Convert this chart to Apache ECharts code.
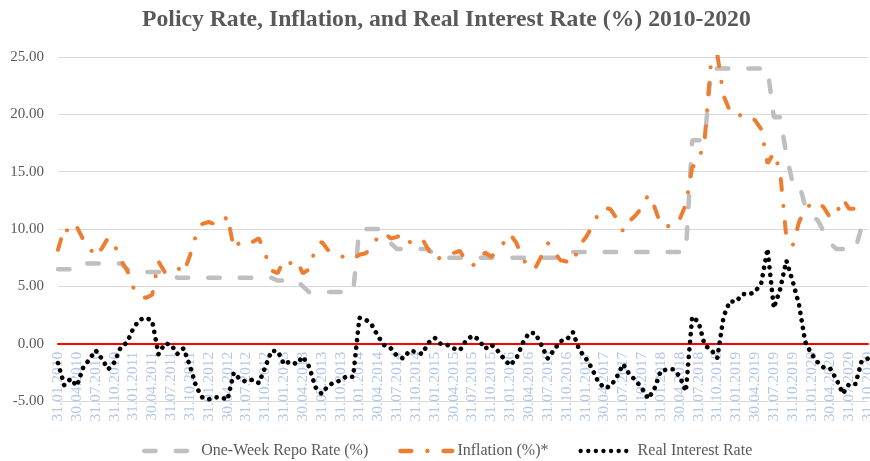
<!DOCTYPE html>
<html>
<head>
<meta charset="utf-8">
<title>Policy Rate, Inflation, and Real Interest Rate (%) 2010-2020</title>
<script src="https://cdn.jsdelivr.net/npm/echarts@6/dist/echarts.min.js"></script>
<style>
  html, body { margin: 0; padding: 0; background: #fff; }
  #main-chart { width: 870px; height: 461px; }
</style>
</head>
<body>
<div id="main-chart"></div>
<script>
// Monthly observations, Jan 2010 - Oct 2020 (month-end dates)
const years = [2010, 2011, 2012, 2013, 2014, 2015, 2016, 2017, 2018, 2019, 2020];
const monthEnds = ['31.01', '28.02', '31.03', '30.04', '31.05', '30.06',
                   '31.07', '31.08', '30.09', '31.10', '30.11', '31.12'];
const lastMonthOf2020 = 10;

const repoRate = [
  6.5, 6.5, 6.5, 6.5, 7, 7, 7, 7, 7, 7, 7, 6.5,
  6.25, 6.25, 6.25, 6.25, 6.25, 6.25, 6.25, 5.75, 5.75, 5.75, 5.75, 5.75,
  5.75, 5.75, 5.75, 5.75, 5.75, 5.75, 5.75, 5.75, 5.75, 5.75, 5.75, 5.5,
  5.5, 5.5, 5.5, 5, 4.5, 4.5, 4.5, 4.5, 4.5, 4.5, 4.5, 4.5,
  10, 10, 10, 10, 9.5, 8.75, 8.25, 8.25, 8.25, 8.25, 8.25, 8.25,
  7.75, 7.5, 7.5, 7.5, 7.5, 7.5, 7.5, 7.5, 7.5, 7.5, 7.5, 7.5,
  7.5, 7.5, 7.5, 7.5, 7.5, 7.5, 7.5, 7.5, 7.5, 7.5, 8, 8,
  8, 8, 8, 8, 8, 8, 8, 8, 8, 8, 8, 8,
  8, 8, 8, 8, 8, 17.75, 17.75, 17.75, 24, 24, 24, 24,
  24, 24, 24, 24, 24, 24, 19.75, 19.75, 16.5, 14, 14, 12,
  11.25, 10.75, 9.75, 8.75, 8.25, 8.25, 8.25, 8.25, 10.25, 10.25
];

const inflation = [
  8.19, 10.13, 9.56, 10.19, 9.10, 8.37, 7.58, 8.33, 9.24, 8.62, 7.29, 6.40,
  4.90, 4.16, 3.99, 4.26, 7.17, 6.24, 6.31, 6.65, 6.15, 7.66, 9.48, 10.45,
  10.61, 10.43, 10.43, 11.14, 8.28, 8.87, 9.07, 8.88, 9.19, 7.80, 6.37, 6.16,
  7.31, 7.03, 7.29, 6.13, 6.51, 8.30, 8.88, 8.17, 7.88, 7.71, 7.32, 7.40,
  7.75, 7.89, 8.39, 9.38, 9.66, 9.16, 9.32, 9.54, 8.86, 8.96, 9.15, 8.17,
  7.24, 7.55, 7.61, 7.91, 8.09, 7.20, 6.81, 7.14, 7.95, 7.58, 8.10, 8.81,
  9.58, 8.78, 7.46, 6.57, 6.58, 7.64, 8.79, 8.05, 7.28, 7.16, 7.00, 8.53,
  9.22, 10.13, 11.29, 11.87, 11.72, 10.90, 9.79, 10.68, 11.20, 11.90, 12.98, 11.92,
  10.35, 10.26, 10.23, 10.85, 12.15, 15.39, 15.85, 17.90, 24.52, 25.24, 21.62, 20.30,
  20.35, 19.67, 19.71, 19.50, 18.71, 15.72, 16.65, 15.01, 9.26, 8.55, 10.56, 11.84,
  12.15, 12.37, 11.86, 10.94, 11.39, 12.62, 11.76, 11.77, 11.75, 11.89
];

const realRate = [
  -1.69, -3.63, -3.06, -3.69, -2.10, -1.37, -0.58, -1.33, -2.24, -1.62, -0.29, 0.10,
  1.35, 2.09, 2.26, 1.99, -0.92, 0.01, -0.06, -0.90, -0.40, -1.91, -3.73, -4.70,
  -4.86, -4.68, -4.68, -4.90, -2.53, -3.12, -3.32, -3.13, -3.44, -2.05, -0.62, -0.66,
  -1.81, -1.53, -1.79, -1.13, -2.01, -3.80, -4.38, -3.67, -3.38, -3.21, -2.82, -2.90,
  2.25, 2.11, 1.61, 0.62, -0.16, -0.41, -1.07, -1.29, -0.61, -0.71, -0.90, 0.08,
  0.51, -0.05, -0.11, -0.41, -0.59, 0.30, 0.69, 0.36, -0.45, -0.08, -0.60, -1.31,
  -1.90, -1.28, 0.04, 0.93, 0.92, -0.14, -1.29, -0.55, 0.22, 0.34, 1.00, -0.53,
  -1.22, -2.13, -3.29, -3.87, -3.72, -2.90, -1.79, -2.68, -3.20, -3.90, -4.80, -3.92,
  -2.35, -2.26, -2.23, -2.85, -4.15, 2.36, 1.90, -0.15, -0.52, -1.24, 2.38, 3.70,
  3.65, 4.33, 4.29, 4.50, 5.29, 8.28, 3.10, 4.74, 7.24, 5.45, 3.44, 0.16,
  -0.90, -1.62, -2.11, -2.19, -3.14, -4.37, -3.51, -3.52, -1.50, -1.30
];

const seriesNames = ['One-Week Repo Rate (%)', 'Inflation (%)*', 'Real Interest Rate'];

// category labels dd.mm.yyyy
const dates = [];
years.forEach(function (y) {
  const n = y === 2020 ? lastMonthOf2020 : 12;
  for (let m = 0; m < n; m++) dates.push(monthEnds[m] + '.' + y);
});

const serif = "'Liberation Serif', 'Times New Roman', serif";

// plot box: 25 at y=57, -5 at y=401, so the zero line sits 57.3px above the bottom
const gridTop = 57;
const gridBottom = 60;
const zeroOffset = -(461 - gridBottom - gridTop) * 5 / 30;

let chartDom = document.getElementById('main-chart');
let myChart = echarts.init(chartDom, null, { renderer: 'canvas' });

let option = {
  backgroundColor: '#ffffff',
  animation: false,
  title: {
    text: 'Policy Rate, Inflation, and Real Interest Rate (%) 2010-2020',
    left: 142,
    top: 8,
    padding: 0,
    textStyle: { color: '#595959', fontFamily: serif, fontWeight: 'bold', fontSize: 23.7 }
  },
  legend: {
    data: seriesNames,
    left: 142,
    top: 443,
    padding: 0,
    itemWidth: 52,
    itemHeight: 16,
    itemGap: 30,
    itemStyle: { opacity: 0 },
    lineStyle: { width: 4.3, cap: 'round' },
    textStyle: { color: '#595959', fontFamily: serif, fontSize: 16 }
  },
  grid: {
    left: 58,
    right: 2,
    top: gridTop,
    bottom: gridBottom,
    containLabel: false,
    outerBoundsMode: 'none'
  },
  xAxis: {
    type: 'category',
    data: dates,
    boundaryGap: false,
    offset: zeroOffset,
    axisLine: { onZero: false, lineStyle: { color: '#ff0000', width: 2 } },
    axisTick: { show: false },
    axisLabel: {
      interval: 2,
      rotate: 90,
      margin: 8,
      color: '#b4c7e7',
      fontFamily: serif,
      fontSize: 15.5
    },
    splitLine: { show: false }
  },
  yAxis: {
    type: 'value',
    min: -5,
    max: 25,
    interval: 5,
    axisLine: { show: false },
    axisTick: { show: false },
    axisLabel: {
      formatter: function (v) { return v.toFixed(2); },
      color: '#595959',
      fontFamily: serif,
      fontSize: 15,
      margin: 14
    },
    splitLine: { lineStyle: { color: '#d9d9d9', width: 1 } }
  },
  series: [
    {
      name: seriesNames[0],
      type: 'line',
      data: repoRate,
      symbol: 'none',
      itemStyle: { color: '#bfbfbf' },
      lineStyle: { color: '#bfbfbf', width: 4.5, type: [11.5, 20], cap: 'round' }
    },
    {
      name: seriesNames[1],
      type: 'line',
      data: inflation,
      symbol: 'none',
      itemStyle: { color: '#ed7d31' },
      lineStyle: { color: '#ed7d31', width: 4, type: [11, 16, 0.1, 16], cap: 'round' }
    },
    {
      name: seriesNames[2],
      type: 'line',
      data: realRate,
      symbol: 'none',
      itemStyle: { color: '#000000' },
      lineStyle: { color: '#000000', width: 4.6, type: [0.1, 7.5], cap: 'round' }
    }
  ]
};

myChart.setOption(option);
</script>
</body>
</html>
